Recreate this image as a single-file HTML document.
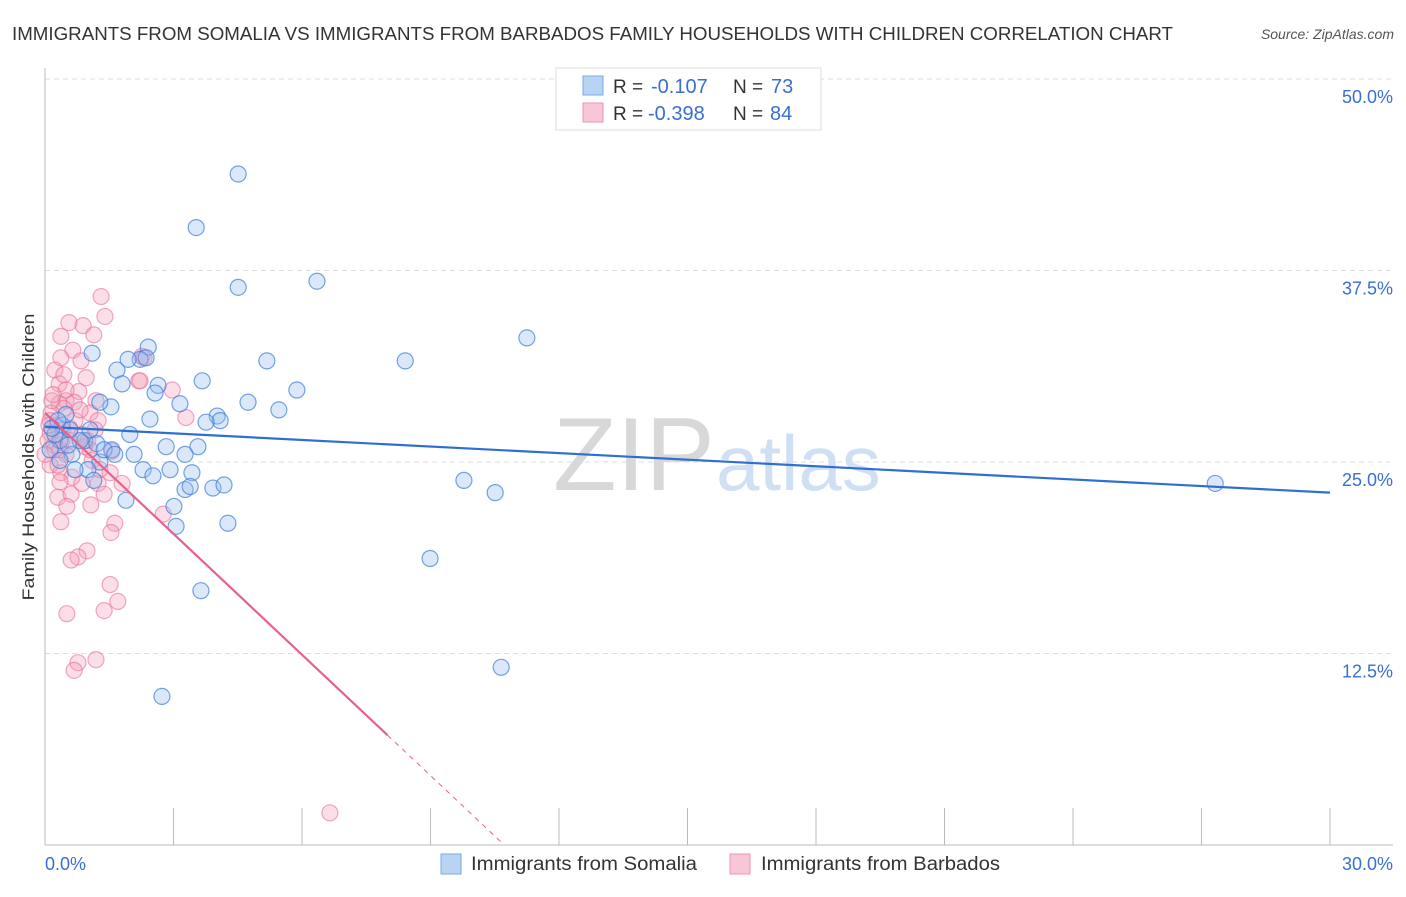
<!DOCTYPE html>
<html><head><meta charset="utf-8"><style>
body{margin:0;background:#fff;font-family:"Liberation Sans",sans-serif}
svg text{font-family:"Liberation Sans",sans-serif}
</style></head><body>
<svg id="chart" width="1406" height="892" xmlns="http://www.w3.org/2000/svg">
<text x="12" y="40" font-size="18" fill="#333" textLength="1161" lengthAdjust="spacingAndGlyphs">IMMIGRANTS FROM SOMALIA VS IMMIGRANTS FROM BARBADOS FAMILY HOUSEHOLDS WITH CHILDREN CORRELATION CHART</text>
<text x="1394" y="39" font-size="14" fill="#555" font-style="italic" text-anchor="end">Source: ZipAtlas.com</text>
<text x="553" y="490" font-size="104" fill="#d8d8d8" font-family="Liberation Serif">ZIP</text>
<text x="716" y="490" font-size="78" fill="#cfe0f5">atlas</text>
<g id="grid"></g><g id="axes"></g><g id="pts"></g><g id="lines"></g>
<text x="34" y="457" font-size="17" fill="#333" text-anchor="middle" textLength="287" lengthAdjust="spacingAndGlyphs" transform="rotate(-90 34 457)">Family Households with Children</text>
<g>
<rect x="556" y="68" width="265" height="62" fill="#fff" stroke="#ddd"/>
<rect x="583" y="76" width="20" height="19" fill="#b9d3f3" stroke="#7aa8e6"/>
<rect x="583" y="103" width="20" height="19" fill="#f9c6d5" stroke="#ee93b0"/>
<text x="613" y="93" font-size="19" fill="#333">R =</text>
<text x="651" y="93" font-size="20" fill="#3a6fd1">-0.107</text>
<text x="733" y="93" font-size="19" fill="#333">N =</text>
<text x="771" y="93" font-size="20" fill="#3a6fd1">73</text>
<text x="613" y="120" font-size="19" fill="#333">R =</text>
<text x="648" y="120" font-size="20" fill="#3a6fd1">-0.398</text>
<text x="733" y="120" font-size="19" fill="#333">N =</text>
<text x="770" y="120" font-size="20" fill="#3a6fd1">84</text>
</g>
<g>
<rect x="441" y="854" width="20" height="20" fill="#b9d3f3" stroke="#7aa8e6"/>
<text x="471" y="870" font-size="19" fill="#333" textLength="226" lengthAdjust="spacingAndGlyphs">Immigrants from Somalia</text>
<rect x="730" y="854" width="20" height="20" fill="#f9c6d5" stroke="#ee93b0"/>
<text x="761" y="870" font-size="19" fill="#333" textLength="239" lengthAdjust="spacingAndGlyphs">Immigrants from Barbados</text>
</g>
</svg>
<script>
const blueX=[4.51,3.53,4.51,6.35,11.25,8.41,5.18,1.10,2.41,2.22,1.94,2.36,1.68,3.67,1.80,2.64,5.88,2.57,3.15,4.74,1.54,1.28,5.46,4.02,4.09,3.76,2.45,0.40,1.98,0.93,3.57,2.83,1.21,1.56,2.08,0.63,1.28,3.27,2.29,2.52,2.92,3.43,1.00,1.14,3.27,3.39,3.92,4.18,3.01,1.89,3.06,4.27,9.78,10.51,27.32,8.99,3.64,10.65,2.73,0.82,0.35,0.58,0.12,0.23,0.70,1.38,0.35,1.63,1.05,0.49,0.30,0.16,0.54];
const blueY=[43.8,40.3,36.4,36.8,33.1,31.6,31.6,32.1,32.5,31.7,31.7,31.8,31.0,30.3,30.1,30.0,29.7,29.5,28.8,28.9,28.6,28.9,28.4,28.0,27.7,27.6,27.8,27.4,26.8,26.4,26.0,26.0,26.2,25.8,25.5,25.5,25.0,25.5,24.5,24.1,24.5,24.3,24.5,23.8,23.2,23.4,23.3,23.5,22.1,22.5,20.8,21.0,23.8,23.0,23.6,18.7,16.6,11.6,9.7,26.4,26.4,27.1,25.8,26.8,24.5,25.8,25.1,25.5,27.1,28.1,27.7,27.2,26.1];
const pinkX=[1.31,1.40,0.56,0.89,1.14,0.37,0.65,0.37,0.84,2.26,2.31,0.23,0.96,2.19,0.33,2.97,0.79,0.49,0.33,0.68,1.19,0.44,0.14,1.05,1.24,0.28,0.58,0.12,0.86,0.40,1.00,0.21,0.35,0.49,1.10,0.12,1.52,0.37,0.63,0.86,1.24,0.30,0.61,1.38,0.51,1.07,0.37,1.63,1.54,0.98,0.77,0.61,1.52,1.70,1.38,0.51,1.19,0.77,0.68,6.65,2.76,1.80,2.22,3.29,0.12,0.07,0.23,0.42,0.70,0.0,0.16,0.49,0.82,0.30,0.58,0.93,1.56,0.09,1.28,0.35,1.05,1.17,0.19,0.44];
const pinkY=[35.8,34.5,34.1,33.9,33.3,33.2,32.3,31.8,31.6,31.9,31.8,31.0,30.5,30.3,30.1,29.7,29.6,29.0,28.8,28.9,29.0,28.5,28.2,28.2,27.7,27.4,27.2,26.9,26.8,26.4,26.4,26.1,25.8,25.5,25.1,24.8,24.3,24.3,24.0,23.6,23.6,22.7,22.9,22.9,22.1,22.2,21.1,21.0,20.4,19.2,18.8,18.6,17.0,15.9,15.3,15.1,12.1,11.9,11.4,2.1,21.6,23.6,30.3,27.9,27.7,26.4,25.8,27.1,27.7,25.5,29.0,29.7,28.4,24.8,26.4,26.0,25.7,27.4,24.5,23.7,25.8,27.1,29.4,30.7];
const blueTrend=[27.3,23.0];
const pinkTrend=[28.2,-2.63];
const pinkSolidEnd=8.0;
const yTicks=[12.5,25.0,37.5,50.0];
const xTickVals=[0,3,6,9,12,15,18,21,24,27,30];
const NS='http://www.w3.org/2000/svg';
const X=v=>45+v/30*1285, Y=v=>845-v/50*766;
function mk(p,t,a){const e=document.createElementNS(NS,t);for(const k in a)e.setAttribute(k,a[k]);p.appendChild(e);return e;}
const grid=document.getElementById('grid'),axes=document.getElementById('axes'),pts=document.getElementById('pts'),lines=document.getElementById('lines');
yTicks.forEach(t=>{
 const l=mk(grid,'line',{x1:45,x2:1393,y1:Y(t),y2:Y(t),stroke:'#ddd','stroke-dasharray':'5,4'});
 
 
 const tx=mk(grid,'text',{x:1393,y:Y(t)+24,'font-size':18,fill:'#3a6fd1','text-anchor':'end'});
 tx.textContent=t.toFixed(1)+'%';
 
 
});
const ax=mk(axes,'line',{x1:45,x2:45,y1:68,y2:845,stroke:'#bbb'});


const bx=mk(axes,'line',{x1:45,x2:1393,y1:845,y2:845,stroke:'#bbb'});


xTickVals.forEach(t=>{
 const l=mk(axes,'line',{x1:X(t),x2:X(t),y1:808,y2:845,stroke:'#bbb'});
 
 
});
[[0,'start',45],[30,'end',1393]].forEach(([v,a,x])=>{
 const tx=mk(axes,'text',{x:x,y:870,'font-size':18,fill:'#3a6fd1','text-anchor':a});
 tx.textContent=v.toFixed(1)+'%';
 
 
});
pinkX.forEach((v,i)=>{
 const c=mk(pts,'circle',{cx:X(v),cy:Y(pinkY[i]),r:8,fill:'rgba(244,160,185,0.35)',stroke:'rgba(232,110,150,0.6)','stroke-width':1.2});
 
 
});
blueX.forEach((v,i)=>{
 const c=mk(pts,'circle',{cx:X(v),cy:Y(blueY[i]),r:8,fill:'rgba(150,190,240,0.35)',stroke:'rgba(60,125,215,0.7)','stroke-width':1.2});
 
 
});
const bl=mk(lines,'line',{x1:X(0),y1:Y(blueTrend[0]),x2:X(30),y2:Y(blueTrend[1]),stroke:'#2f6fd4','stroke-width':2.2});


const pe=-pinkTrend[0]/pinkTrend[1];
const pl=mk(lines,'line',{x1:X(0),y1:Y(pinkTrend[0]),x2:X(pinkSolidEnd),y2:Y(pinkTrend[0]+pinkTrend[1]*pinkSolidEnd),stroke:'#e8608e','stroke-width':2.2});


const pd=mk(lines,'line',{x1:X(pinkSolidEnd),y1:Y(pinkTrend[0]+pinkTrend[1]*pinkSolidEnd),x2:X(pe),y2:Y(0),stroke:'#e8608e','stroke-width':1,'stroke-dasharray':'5,5'});


</script>
</body></html>
